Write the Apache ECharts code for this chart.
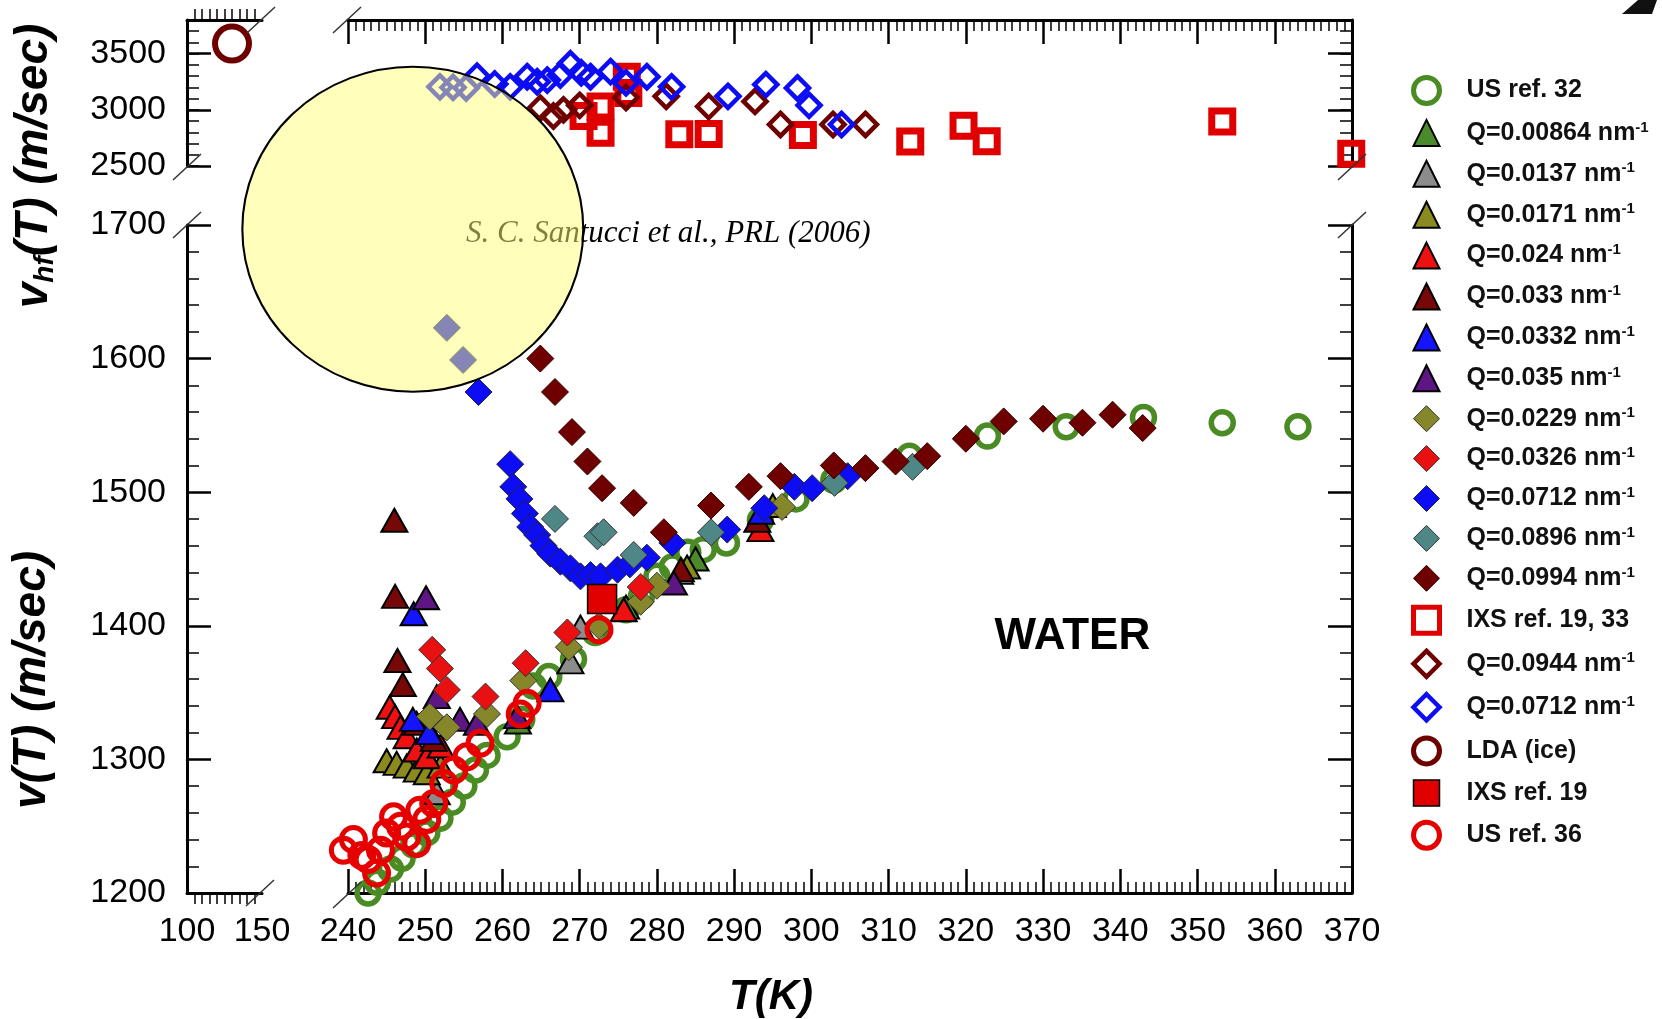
<!DOCTYPE html>
<html><head><meta charset="utf-8">
<script src="https://cdn.jsdelivr.net/npm/echarts@6/dist/echarts.min.js"></script>
<style>html,body{margin:0;padding:0;background:#fff}#c{width:1662px;height:1019px}</style>
</head><body><div id="c"></div>
<script>
// ---------- tick labels ----------
const xLabelsLeft = [100, 150];
const xLabelsMain = [240,250,260,270,280,290,300,310,320,330,340,350,360,370];
const yLabelsTop = [2500, 3000, 3500];
const yTopMax = 3800;
const yLabelsBottom = [1200,1300,1400,1500,1600,1700];

// ---------- data (T [K], v [m/s]) ----------
const usRef32 = [[242.6,1200],[243.8,1208],[245.5,1218],[247,1226],[248.5,1236],[250.2,1245],[251.9,1256],[253.5,1268],[255,1280],[256.5,1292],[258,1303],[260.6,1317],[262.5,1330],[264,1355],[266,1362],[269.2,1375],[272,1395],[276,1412],[278,1422],[280,1437],[282,1444],[284,1455],[286,1457],[289,1462],[293.4,1479],[298,1495],[302.9,1509],[312.7,1527],[322.8,1542],[333,1549],[343,1556],[353.2,1552],[363,1549]];
const q00864 = [[262,1328],[276,1414],[285,1450]];
const q0137 = [[251.5,1275],[268.8,1373],[270.1,1399],[283,1440]];
const q0171 = [[245,1299],[246.3,1297],[247.6,1295],[248.9,1292],[250.2,1290],[252,1295],[283.9,1444],[295,1490]];
const q024 = [[245.4,1339],[246.1,1332],[246.8,1324],[247.6,1317],[248.9,1307],[250.2,1302],[252,1310],[275.7,1412],[293.4,1472]];
const q033 = [[246,1479],[246.1,1422],[246.4,1374],[247.1,1356],[248.9,1327],[251.1,1315],[283.1,1442],[293,1479]];
const q0332 = [[248.5,1409],[248.4,1330],[250.5,1320],[266.2,1352],[293.5,1485]];
const q035 = [[250.1,1421],[251.5,1347],[254.5,1330],[256.7,1327],[261.9,1332],[282.2,1432]];
const q0229 = [[250.6,1332],[252.8,1324],[258,1334],[262.7,1359],[268.6,1384],[272.5,1400],[277.9,1418],[280,1430],[296.2,1489]];
const q0326 = [[250.9,1382],[251.9,1368],[252.8,1352],[257.8,1347],[263,1372],[268.4,1395],[277.9,1429]];
const q0712 = [[252.8,1623],[254.9,1599],[256.9,1575],[261,1521],[261.4,1504],[262.2,1495],[262.9,1484],[263.6,1474],[264.5,1468],[265.3,1460],[266.2,1454],[267.5,1448],[268.8,1443],[270.1,1437],[271.4,1438],[272.7,1437],[274.9,1442],[276.5,1446],[278.7,1451],[282,1462],[289.1,1472],[293.9,1488],[297.8,1504],[300.1,1503],[304.7,1512]];
const q0896 = [[266.8,1480],[272.3,1467],[273.1,1470],[277,1453],[287,1470],[303,1507],[313.1,1519]];
const q0994 = [[264.9,1600],[266.8,1575],[269,1545],[271,1523],[272.9,1503],[277,1492],[280.9,1470],[287,1490],[291.9,1504],[296,1512],[302.9,1520],[307,1518],[310.9,1523],[315,1527],[320,1540],[324.9,1553],[330,1555],[335.1,1552],[339,1558],[342.9,1548]];
const ixs19_33 = [[270.5,2945],[272.7,3030],[272.7,2795],[276.1,3295],[276.3,3150],[282.9,2783],[286.7,2785],[298.9,2775],[312.8,2718],[319.7,2858],[322.7,2720],[353.2,2897],[369.9,2610]];
const q0944open = [[264.9,3015],[266.6,2945],[267.9,3000],[270,3040],[276,3110],[281.2,3120],[286.7,3030],[292.7,3075],[296,2870],[302.8,2870],[307,2870]];
const q0712open = [[251.9,3205],[253.6,3200],[255.3,3195],[256.7,3300],[259,3230],[261,3205],[263.2,3295],[264.5,3250],[265.8,3265],[267.5,3310],[268.8,3410],[270.2,3330],[271.4,3295],[274,3340],[276,3240],[278.7,3295],[281.9,3205],[289.2,3120],[294.1,3225],[298.2,3195],[299.7,3040],[303.9,2870]];
const ldaIce = [[130,3590]];
const ixs19 = [[272.9,1420]];
const usRef36 = [[239.4,1232],[240.7,1240],[241.8,1228],[242.6,1225],[243.7,1215],[244.2,1232],[245,1245],[245.9,1257],[246.8,1250],[247.6,1242],[248.9,1237],[249.3,1262],[250.2,1255],[251.1,1267],[252.4,1282],[253.7,1292],[255.4,1302],[257.1,1312],[262.3,1334],[263.2,1342],[272.5,1397]];

// ---------- layout ----------
const L = 187, SR = 262, ML = 348, R = 1352;
const TT = 20, TB = 166, BT = 225, BB = 893;
const FONT = '"Liberation Sans", Arial, sans-serif';

const chart = echarts.init(document.getElementById('c'), null, {renderer: 'canvas'});

const plainFmt = v => String(v);
function axBase(extra) {
  return Object.assign({
    type: 'value',
    splitLine: {show: false},
    axisLine: {show: true, onZero: false, lineStyle: {color: '#000', width: 3}},
    axisTick: {show: true, inside: true, length: 24, lineStyle: {color: '#000', width: 2.5}},
    minorTick: {show: false},
    axisLabel: {show: false, color: '#000', fontFamily: FONT, fontSize: 34},
  }, extra);
}
const minorX = {show: true, splitNumber: 10, length: 11, lineStyle: {color: '#000', width: 1.5}};
const minorYb = {show: true, splitNumber: 5, length: 12, lineStyle: {color: '#000', width: 1.5}};

const xMinL = xLabelsLeft[0], xMaxL = xLabelsLeft[xLabelsLeft.length-1];
const xMinM = xLabelsMain[0], xMaxM = xLabelsMain[xLabelsMain.length-1];
const yMinT = yLabelsTop[0];
const yMinB = yLabelsBottom[0], yMaxB = yLabelsBottom[yLabelsBottom.length-1];
const lab = extra => Object.assign({show: true, color: '#000', fontFamily: FONT, fontSize: 34, formatter: plainFmt}, extra);

const xAxes = [
  axBase({gridIndex: 0, position: 'top', min: xMinL, max: xMaxL, interval: xMaxL - xMinL, axisTick: {show: false}, minorTick: minorX}),
  axBase({gridIndex: 1, position: 'top', min: xMinM, max: xMaxM, interval: 10, minorTick: minorX}),
  axBase({gridIndex: 2, position: 'bottom', min: xMinL, max: xMaxL, interval: xMaxL - xMinL, axisTick: {show: false}, minorTick: minorX,
    axisLabel: lab({margin: 22})}),
  axBase({gridIndex: 3, position: 'bottom', min: xMinM, max: xMaxM, interval: 10, minorTick: minorX,
    axisLabel: lab({margin: 22})}),
];
const topFmt = v => (yLabelsTop.indexOf(v) >= 0 ? String(v) : '');
const yAxes = [
  axBase({gridIndex: 0, position: 'left', min: yMinT, max: yTopMax, interval: 500,
    axisLabel: lab({margin: 21, formatter: topFmt, showMaxLabel: false})}),
  axBase({gridIndex: 1, position: 'right', min: yMinT, max: yTopMax, interval: 500}),
  axBase({gridIndex: 2, position: 'left', min: yMinB, max: yMaxB, interval: 100, minorTick: minorYb,
    axisLabel: lab({margin: 21})}),
  axBase({gridIndex: 3, position: 'right', min: yMinB, max: yMaxB, interval: 100, minorTick: minorYb}),
  // short 100 m/s ticks of the upper panel
  axBase({gridIndex: 0, position: 'left', min: yMinT, max: yTopMax, interval: 100, axisLine: {show: false, onZero: false},
    axisTick: {show: true, inside: true, length: 12, lineStyle: {color: '#000', width: 1.5}}}),
  axBase({gridIndex: 1, position: 'right', min: yMinT, max: yTopMax, interval: 100, axisLine: {show: false, onZero: false},
    axisTick: {show: true, inside: true, length: 12, lineStyle: {color: '#000', width: 1.5}}}),
];

const grids = [
  {left: L, top: TT, width: SR - L, height: TB - TT},
  {left: ML, top: TT, width: R - ML, height: TB - TT},
  {left: L, top: BT, width: SR - L, height: BB - BT},
  {left: ML, top: BT, width: R - ML, height: BB - BT},
].map(g => Object.assign({show: false, containLabel: false, outerBoundsMode: 'none'}, g));

const DR = '#6e0000', RED = '#e00000', BLUE = '#0c0cf5', GREEN = '#4a8b23';
const defs = [
  // name, data, grid, symbol, size, fill, stroke, borderWidth, z
  ['US ref. 32', usRef32, 3, 'circle', 22, 'rgba(0,0,0,0)', GREEN, 5.5, 2],
  ['Q=0.00864', q00864, 3, 'triangle', [26,23], '#4a8a2a', '#000', 2, 3],
  ['Q=0.0137', q0137, 3, 'triangle', [26,23], '#8c8c8c', '#000', 2, 3],
  ['Q=0.0171', q0171, 3, 'triangle', [26,23], '#8a8a1e', '#000', 2, 3],
  ['Q=0.024', q024, 3, 'triangle', [26,23], '#ee1111', '#000', 2, 3],
  ['Q=0.033', q033, 3, 'triangle', [26,23], '#780808', '#000', 2, 3],
  ['Q=0.0332', q0332, 3, 'triangle', [26,23], '#1414ff', '#000', 2, 3],
  ['Q=0.035', q035, 3, 'triangle', [26,23], '#5e1684', '#000', 2, 3],
  ['Q=0.0229', q0229, 3, 'diamond', 27, '#86862a', '#333', 1, 4],
  ['Q=0.0326', q0326, 3, 'diamond', 27, '#e81010', '#333', 1, 4],
  ['Q=0.0712', q0712, 3, 'diamond', 27, BLUE, '#223', 1, 4],
  ['Q=0.0896', q0896, 3, 'diamond', 27, '#4f8787', '#333', 1, 4],
  ['Q=0.0994', q0994, 3, 'diamond', 27, DR, '#300', 1, 4],
  ['IXS ref. 19, 33', ixs19_33, 1, 'rect', 21, 'rgba(0,0,0,0)', RED, 7, 3],
  ['Q=0.0944', q0944open, 1, 'diamond', 23, 'rgba(0,0,0,0)', DR, 4.5, 4],
  ['Q=0.0712 ', q0712open, 1, 'diamond', 23, 'rgba(0,0,0,0)', BLUE, 4.5, 5],
  ['LDA (ice)', ldaIce, 0, 'circle', 34, 'rgba(0,0,0,0)', DR, 6, 4],
  ['IXS ref. 19', ixs19, 3, 'rect', 29, RED, '#000', 1.5, 5],
  ['US ref. 36', usRef36, 3, 'circle', 24, 'rgba(0,0,0,0)', '#e60000', 5, 6],
];
const series = defs.map(d => ({
  type: 'scatter', name: d[0], data: d[1], xAxisIndex: d[2], yAxisIndex: d[2],
  symbol: d[3], symbolSize: d[4], clip: false, z: d[8],
  itemStyle: {color: d[5], borderColor: d[6], borderWidth: d[7], opacity: 1},
  emphasis: {disabled: true}
}));

const legendData = defs.map(d => ({
  name: d[0],
  itemStyle: {color: d[5], borderColor: d[6], borderWidth: d[7] >= 4 ? Math.min(d[7], 5) : d[7]}
}));

const legendFmt = name => {
  const n = name.trim();
  return n.startsWith('Q=') ? '{t|' + n + ' nm}{s|-1}' : '{t|' + n + '}';
};

function slash(cx, cy) {
  return {type: 'line', shape: {x1: cx - 14, y1: cy + 13, x2: cx + 14, y2: cy - 13},
    style: {stroke: '#333', lineWidth: 1.5}, z: 50};
}

const titleFont = 'bold italic 46px ' + FONT;
const graphicEls = [
  slash(SR - 1, TT), slash(ML - 1, TT), slash(L, TB + 1), slash(L, BT),
  slash(SR - 2, BB), slash(ML - 1, BB + 2), slash(R, TB + 1), slash(R, BT),
  {type: 'text', x: 771, y: 997, z: 50,
    style: {text: 'T(K)', font: 'bold italic 42px ' + FONT, fill: '#000', align: 'center', verticalAlign: 'middle'}},
  {type: 'text', x: 32, y: 680, rotation: Math.PI / 2, z: 50,
    style: {text: 'v(T) (m/sec)', font: titleFont, fill: '#000', align: 'center', verticalAlign: 'middle'}},
  {type: 'text', x: 34, y: 166, rotation: Math.PI / 2, z: 50,
    style: {text: '{a|v}{b|hf}{a|(T) (m/sec)}', align: 'center', verticalAlign: 'middle', fill: '#000',
      rich: {a: {font: titleFont, fill: '#000', lineHeight: 50},
             b: {font: 'bold italic 28px ' + FONT, fill: '#000', lineHeight: 34, verticalAlign: 'bottom'}}}},
  {type: 'text', x: 466, y: 234, z: 90,
    style: {text: 'S. C. Santucci et al., PRL (2006)', font: 'italic 31px "Liberation Serif", "Times New Roman", serif',
      fill: '#000', align: 'left', verticalAlign: 'middle'}},
  {type: 'circle', x: 412.8, y: 229.2, scaleX: 1.049, shape: {cx: 0, cy: 0, r: 162.5}, z: 100,
    style: {fill: 'rgba(255,255,120,0.5)', stroke: '#000', lineWidth: 2}},
  {type: 'polygon', z: 50, shape: {points: [[1622,14],[1638,0],[1657,0],[1652,14]]}, style: {fill: '#111'}},
];

chart.setOption({
  animation: false,
  backgroundColor: '#fff',
  grid: grids,
  xAxis: xAxes,
  yAxis: yAxes,
  legend: {
    orient: 'vertical', left: 1406, top: 70, itemWidth: 26, itemHeight: 26, itemGap: 12.9,
    selectedMode: false, data: legendData, formatter: legendFmt, symbolKeepAspect: true,
    textStyle: {color: '#111', fontFamily: FONT, fontSize: 25, fontWeight: 'bold', lineHeight: 26,
      rich: {t: {color: '#111', fontFamily: FONT, fontSize: 25, fontWeight: 'bold', lineHeight: 26, padding: [0, 0, 0, 22]},
             s: {color: '#111', fontFamily: FONT, fontSize: 15, fontWeight: 'bold', lineHeight: 14, verticalAlign: 'top'}}}
  },
  series: series,
  graphic: {elements: graphicEls}
});

// "WATER" label placed in data coordinates of the lower panel
const wp = chart.convertToPixel({xAxisIndex: 3, yAxisIndex: 3}, [333.8, 1392]);
graphicEls.push({type: 'text', x: wp[0], y: wp[1], z: 50,
  style: {text: 'WATER', font: 'bold 44px ' + FONT, fill: '#000', align: 'center', verticalAlign: 'middle'}});
chart.setOption({graphic: {elements: graphicEls}}, {replaceMerge: ['graphic']});
</script>
</body></html>
